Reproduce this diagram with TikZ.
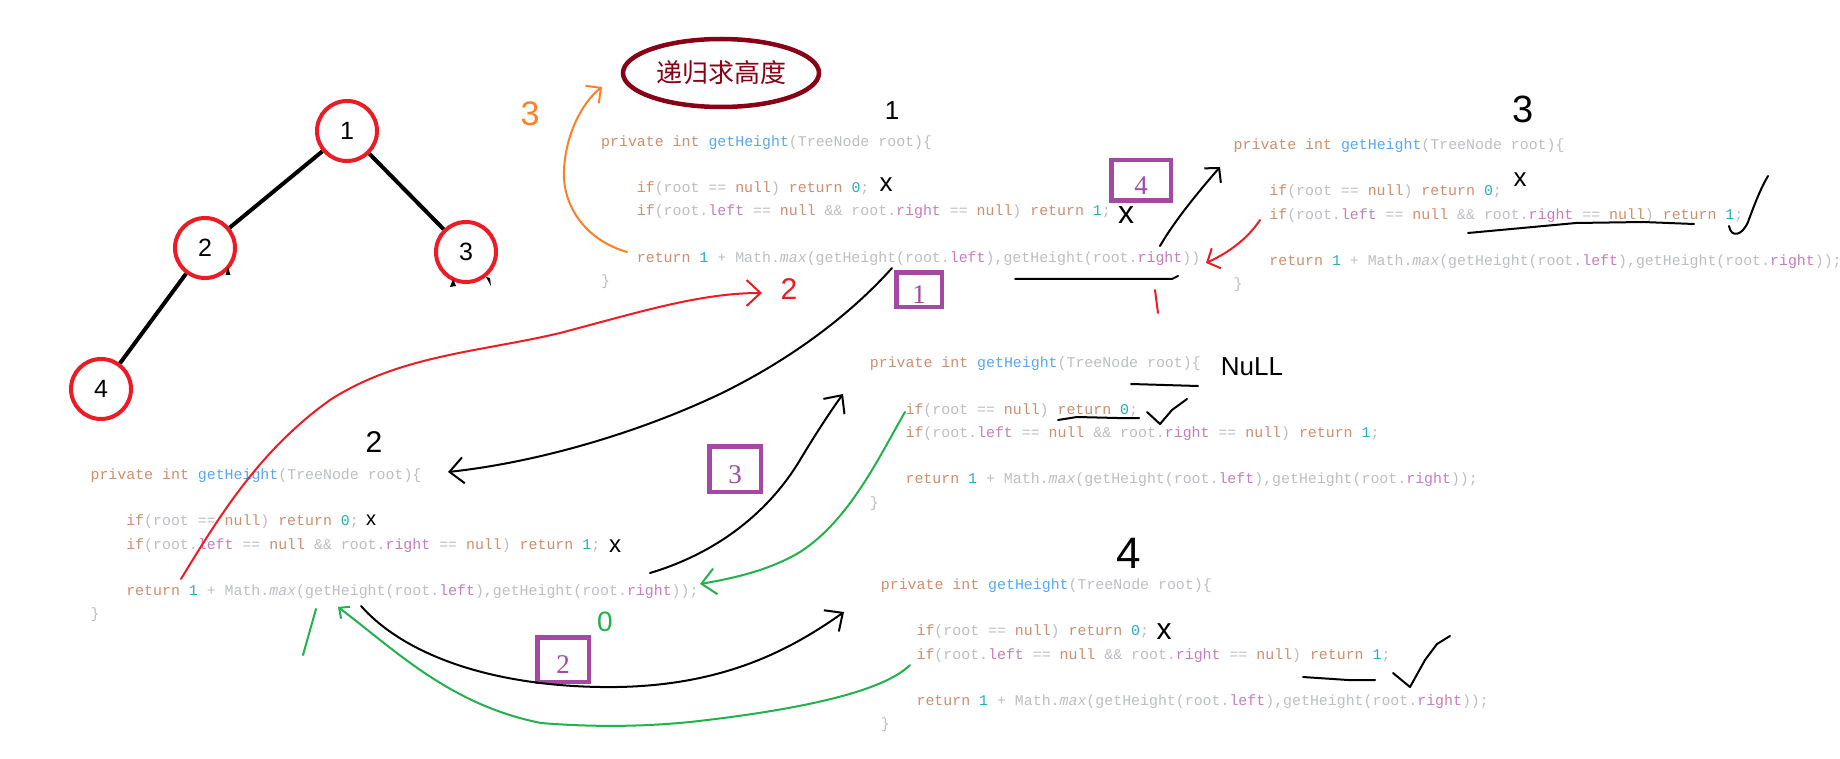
\documentclass[tikz,border=0pt]{standalone}
\usepackage{fontspec}
\usetikzlibrary{shapes.geometric,arrows.meta,positioning}
\setmainfont{Liberation Sans}
\newfontfamily\codefont{Liberation Mono}
\newfontfamily\cjkfont{Noto Sans CJK SC}
\newfontfamily\boxfont{Liberation Serif}
\definecolor{kwcol}{HTML}{CF8E6D}
\definecolor{numcol}{HTML}{2AACB8}
\definecolor{fldcol}{HTML}{C77DBB}
\definecolor{fncol}{HTML}{56A8F5}
\definecolor{txtcol}{HTML}{BCBEC4}
\definecolor{pred}{HTML}{ED1C24}
\definecolor{pgreen}{HTML}{22B14C}
\definecolor{porange}{HTML}{FF7F27}
\definecolor{ppurple}{HTML}{A349A4}
\definecolor{pdarkred}{HTML}{880015}
\newcommand\kw[1]{\textcolor{kwcol}{#1}}
\newcommand\nm[1]{\textcolor{numcol}{#1}}
\newcommand\fld[1]{\textcolor{fldcol}{#1}}
\newcommand\fn[1]{\textcolor{fncol}{#1}}
\newcommand\getheightblock[4]{%
	\node[code] (#1sig) at (#2,#3) {\kw{private int} \fn{getHeight}(TreeNode root)\{};
	\node[code] (#1if) at ([shift={(35.7,46.4)}]#1sig.base west) {\kw{if}(root == \kw{null}) \kw{return} \nm{0};};
	\node[code] (#1leaf) at ([shift={(35.7,69.6)}]#1sig.base west) {\kw{if}(root.\fld{left} == \kw{null} \&\& root.\fld{right} == \kw{null}) \kw{return} \nm{1};};
	\node[code] (#1ret) at ([shift={(35.7,116)}]#1sig.base west) {\kw{return} \nm{1} + Math.\textit{max}(getHeight(root.\fld{left}),getHeight(root.\fld{right}))#4};
	\node[code] (#1end) at ([shift={(0,139.2)}]#1sig.base west) {\}};
}

\begin{document}
\begin{tikzpicture}[x=1pt, y=-1pt,
	code/.style={anchor=base west, inner sep=0pt, text=txtcol, font=\codefont\fontsize{14.9}{17}\selectfont},
	treenode/.style={circle, draw=pred, line width=4pt, minimum size=60pt, inner sep=0pt, font=\fontsize{25}{25}\selectfont},
	treeedge/.style={line width=4pt},
	hand/.style={inner sep=0pt, font=\fontsize{#1}{#1}\selectfont},
	stroke/.style={line width=2pt, line cap=round, line join=round},
	handarrow/.style={stroke, -{Straight Barb[length=14pt,width=26pt]}},
	numbox/.style={draw=ppurple, line width=4.5pt, text=ppurple, inner sep=0pt, text height=28pt, text depth=0pt, font=\boxfont\fontsize{27}{27}\selectfont}]
	\path[use as bounding box, fill=white] (0,0) rectangle (1840,759);

	\node[treenode] (n1) at (347,131) {1};
	\node[treenode] (n2) at (205,248) {2};
	\node[treenode] (n3) at (466,252) {3};
	\node[treenode] (n4) at (101,389) {4};
	\draw[treeedge] (n1) -- (n2);
	\draw[treeedge] (n1) -- (n3);
	\draw[treeedge] (n2) -- (n4);
	\fill (225.5,275) -- (228,267) -- (230.5,275) -- cycle;
	\fill (450,287) -- (453,279) -- (456,286) -- cycle;
	\fill (486,277) -- (490,278) -- (491,286) -- cycle;

	\node[ellipse, draw=pdarkred, line width=4.5pt, minimum width=196pt, minimum height=68pt, text=pdarkred, font=\cjkfont\fontsize{26}{26}\selectfont] (title) at (721,73) {递归求高度};

	\getheightblock{one}{601}{146.2}{}
	\getheightblock{three}{1233.5}{149.5}{;}
	\getheightblock{two}{90.4}{479.5}{;}
	\getheightblock{nul}{869.7}{367.8}{;}
	\getheightblock{four}{880.7}{589.5}{;}

	\node[hand=26] (lblone) at (892,111) {1};
	\node[hand=38] (lblthree) at (1523,109) {3};
	\node[hand=30] (lbltwo) at (374,442) {2};
	\node[hand=44] (lblfour) at (1129,553) {4};
	\node[hand=26] (lblnull) at (1252,367) {NuLL};
	\node[hand=34, text=porange] (stepthree) at (530,114) {3};
	\node[hand=30, text=pred] (steptwo) at (789,289) {2};
	\node[hand=28, text=pgreen] (retzero) at (605,622) {0};

	\node[hand=26] (xa) at (886,185) {x};
	\node[hand=32] (xb) at (1126,215) {x};
	\node[hand=26] (xc) at (1520,180) {x};
	\node[hand=20] (xd) at (371,520) {x};
	\node[hand=24] (xe) at (615,546) {x};
	\node[hand=30] (xf) at (1164,632) {x};

	\node[numbox, minimum width=45.5pt, minimum height=34.5pt] (boxone) at (919,290) {1};
	\node[numbox, minimum width=51.5pt, minimum height=44.5pt] (boxtwo) at (563,659.5) {2};
	\node[numbox, minimum width=51.5pt, minimum height=45.5pt] (boxthree) at (735,469) {3};
	\node[numbox, minimum width=59.5pt, minimum height=40.5pt] (boxfour) at (1141,180.5) {4};

	\coordinate (orA) at (627,252);
	\coordinate (orB) at (602,87);
	\coordinate (rdA) at (181,579);
	\coordinate (rdB) at (762,293);
	\coordinate (bkA) at (892,268);
	\coordinate (bkB) at (448,472);
	\coordinate (bkC) at (650,573);
	\coordinate (bkD) at (843,394);
	\coordinate (gnA) at (905,412);
	\coordinate (gnB) at (700,584);
	\coordinate (bkE) at (361,606);
	\coordinate (bkF) at (844,612);
	\coordinate (gnC) at (910,665);
	\coordinate (gnD) at (338,607);
	\coordinate (rdC) at (1260,220);
	\coordinate (rdD) at (1206,263);
	\coordinate (bkG) at (1160,246);
	\coordinate (bkH) at (1220,167);

	\draw[handarrow, porange, -{Straight Barb[length=11pt,width=22pt]}] (orA) .. controls (585,240) and (562,205) .. (564,170) .. controls (566,130) and (585,100) .. (orB);
	\draw[handarrow, pred] (rdA) .. controls (220,515) and (260,450) .. (330,400) .. controls (400,355) and (480,352) .. (560,333) .. controls (640,312) and (700,293) .. (rdB);
	\draw[handarrow] (bkA) .. controls (850,315) and (790,360) .. (720,394) .. controls (640,432) and (540,462) .. (bkB);
	\draw[handarrow] (bkC) .. controls (720,552) and (770,510) .. (800,460) .. controls (815,435) and (830,412) .. (bkD);
	\draw[handarrow, pgreen] (gnA) .. controls (880,455) and (850,520) .. (800,552) .. controls (770,570) and (735,578) .. (gnB);
	\draw[handarrow] (bkE) .. controls (400,650) and (480,685) .. (600,687) .. controls (720,689) and (790,650) .. (bkF);
	\draw[handarrow, pgreen, -{Straight Barb[length=8pt,width=15pt]}] (gnC) .. controls (880,695) and (780,712) .. (690,722) .. controls (640,727) and (590,727) .. (541,723) .. controls (450,705) and (395,650) .. (gnD);
	\draw[handarrow, pred, -{Straight Barb[length=10pt,width=22pt]}] (rdC) .. controls (1248,238) and (1230,252) .. (rdD);
	\draw[handarrow, -{Straight Barb[length=10pt,width=22pt]}] (bkG) .. controls (1175,220) and (1200,190) .. (bkH);

	\draw[stroke] (1015,279) -- (1172,279) -- (1178,276);
	\draw[stroke, pred] (1155,290) -- (1158,313);
	\draw[stroke, pgreen] (316,609) -- (303,655);
	\draw[stroke] (1468,233) -- (1576,223) -- (1643,222) -- (1694,224);
	\draw[stroke] (1729,226) .. controls (1731,238) and (1742,236) .. (1748,222) .. controls (1756,200) and (1762,186) .. (1768,176);
	\draw[stroke] (1131,384) -- (1198,386);
	\draw[stroke] (1058,420) -- (1077,417) -- (1117,418) -- (1139,418);
	\draw[stroke] (1147,412) -- (1160,424) -- (1172,410) -- (1187,399);
	\draw[stroke] (1303,677) -- (1348,680) -- (1375,680);
	\draw[stroke] (1393,673) -- (1410,687) -- (1425,660) -- (1437,644) -- (1450,636);
\end{tikzpicture}
\end{document}
